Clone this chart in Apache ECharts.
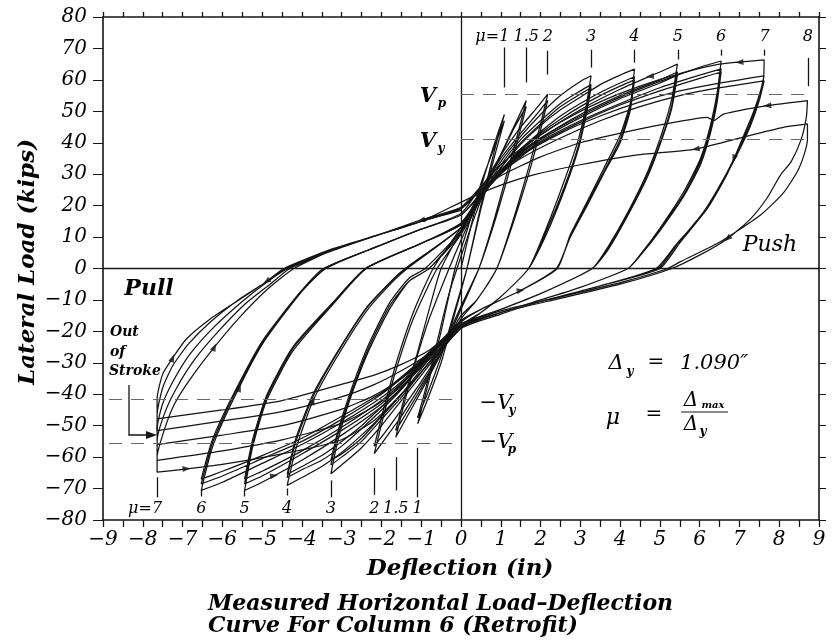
<!DOCTYPE html>
<html><head><meta charset="utf-8">
<script src="https://cdn.jsdelivr.net/npm/echarts/dist/echarts.min.js"></script>
<style>html,body{margin:0;padding:0;background:#fff}#c{width:833px;height:643px}</style>
</head><body><div id="c"></div>
<script>
// ---------- data (deflection in, load kips) ----------
const mu1 = [[0,0],[0.3,16],[0.6,30],[0.9,42],[1.09,49],[0.85,38],[0.5,20],[0.15,0],[-0.15,-14],[-0.5,-30],[-0.85,-42],[-1.09,-49.4],
 [-0.85,-38],[-0.5,-20],[-0.15,0],[0.15,12],[0.5,27],[0.85,39],[1.09,47],[0.85,36],[0.5,19],[0.15,0],[-0.15,-13],[-0.5,-28],[-0.85,-40],[-1.09,-47.5]];
const mu15 = [[-1.09,-47.5],[-0.8,-34],[-0.5,-18],[-0.3,-8],[-0.1,0],[0.3,15],[0.7,28],[1.1,39],[1.4,47],[1.64,53.4],
 [1.45,44],[1.15,30],[0.8,14],[0.45,0],[0,-13],[-0.5,-27],[-1.0,-39],[-1.35,-47],[-1.64,-53.7],
 [-1.45,-44],[-1.15,-30],[-0.8,-16],[-0.3,0],[0,9],[0.5,23],[1.0,36],[1.35,45],[1.64,51.5],
 [1.45,42],[1.15,28],[0.8,13],[0.45,0],[0,-12],[-0.5,-26],[-1.0,-38],[-1.35,-45.5],[-1.64,-51.5]];
const mu2 = [[-1.64,-51.5],[-1.4,-40],[-1.1,-27],[-0.8,-13],[-0.5,0],[0,12],[0.5,25],[1.0,36],[1.5,45],[1.9,51],[2.18,55.5],
 [2.0,46],[1.7,32],[1.3,15],[0.9,0],[0.4,-10],[0,-16],[-0.5,-27],[-1.0,-37],[-1.5,-47],[-1.9,-54],[-2.18,-58.9],
 [-1.95,-47],[-1.65,-33],[-1.2,-16],[-0.6,0],[0,11],[0.5,24],[1.0,35],[1.5,43],[1.9,49],[2.18,53.5],
 [2.0,44],[1.7,30],[1.3,14],[0.9,0],[0.4,-10],[0,-15],[-0.5,-26],[-1.0,-36],[-1.5,-45],[-1.9,-52],[-2.18,-56.5]];
const mu3 = [[-2.18,-56.5],[-1.95,-45],[-1.65,-31],[-1.2,-14],[-0.7,0],[0,13],[0.5,24],[1.0,34],[1.5,42],[2.0,49],[2.5,55],[3.0,59.5],[3.27,61.3],
 [3.15,52],[2.95,41],[2.6,28],[2.15,13],[1.7,0],[1.0,-9],[0.5,-14],[0,-19],[-0.5,-26],[-1.0,-34],[-1.5,-42],[-2.0,-50],[-2.5,-57],[-3.0,-62.5],[-3.27,-65.3],
 [-3.1,-55],[-2.8,-42],[-2.35,-27],[-1.8,-13],[-1.3,-4],[-0.8,0],[0,12],[0.5,23],[1.0,33],[1.5,41],[2.0,47],[2.5,52.5],[3.0,56.5],[3.27,58.5],
 [3.15,50],[2.95,39],[2.6,26],[2.15,12],[1.7,0],[1.0,-9],[0.5,-14],[0,-18],[-0.5,-25],[-1.0,-33],[-1.5,-41],[-2.0,-48],[-2.5,-55],[-3.0,-60],[-3.27,-62.5],
 [-3.1,-53],[-2.8,-41],[-2.35,-26],[-1.8,-12],[-1.3,-4],[-0.8,0],[0,11],[0.5,22],[1.0,32],[1.5,40],[2.0,46],[2.5,51.5],[3.0,55.5],[3.27,57.5],
 [3.15,49],[2.95,38],[2.6,25],[2.15,11],[1.7,0],[1.0,-9],[0.5,-14],[0,-18],[-0.5,-25],[-1.0,-33],[-1.5,-40],[-2.0,-47],[-2.5,-54],[-3.0,-59],[-3.27,-61]];
const mu4 = [[-3.27,-61],[-3.1,-52],[-2.8,-40],[-2.35,-25],[-1.8,-11],[-1.3,-3],[-0.9,0],[0,12],[0.5,23],[1.0,32],[1.5,39.5],[2.0,45.5],[2.5,50.5],[3.0,54.5],[3.5,58.5],[4.0,61.5],[4.36,63.4],
 [4.26,52.8],[4.0,42.4],[3.58,31.6],[3.17,21.2],[2.75,10.8],[2.42,0],[1.5,-7],[0.5,-13],[0,-17],[-0.5,-24],[-1.0,-32],[-1.5,-40],[-2.0,-47],[-2.5,-53],[-3.0,-58.5],[-3.5,-63],[-4.0,-66.5],[-4.37,-69],
 [-4.14,-56.9],[-3.72,-42.1],[-3.13,-28.4],[-2.38,-13.6],[-1.71,-4.1],[-1.35,0],[0,13],[0.5,23],[1.0,31],[1.5,38],[2.0,43.5],[2.5,48.5],[3.0,52.5],[3.5,56],[4.0,59],[4.36,61],
 [4.25,51],[4.0,41],[3.58,30.5],[3.17,20.5],[2.75,10.3],[2.4,0],[1.5,-7],[0.5,-13],[0,-17],[-0.5,-23.5],[-1.0,-31],[-1.5,-38.5],[-2.0,-45],[-2.5,-51],[-3.0,-56.5],[-3.5,-61],[-4.0,-64],[-4.37,-66.5],
 [-4.15,-55],[-3.73,-41],[-3.14,-27.5],[-2.4,-13],[-1.75,-4],[-1.4,0],[0,13],[0.5,22.5],[1.0,30.5],[1.5,37.5],[2.0,43],[2.5,47.5],[3.0,51.5],[3.5,55],[4.0,58],[4.36,60],
 [4.25,50],[4.0,40],[3.58,30],[3.17,20],[2.75,10],[2.4,0],[1.5,-7],[0.5,-13],[0,-16.5],[-0.5,-23],[-1.0,-30.5],[-1.5,-38],[-2.0,-44],[-2.5,-50],[-3.0,-55],[-3.5,-59.5],[-4.0,-63],[-4.37,-65.5]];
const mu5 = [[-4.37,-65.5],[-4.15,-54],[-3.72,-40],[-3.13,-27],[-2.38,-12.5],[-1.71,-3.5],[-1.4,0],[0,13],[0.5,23],[1.0,31],[1.5,37.5],[2,42.5],[3,50.5],[4,57],[5,62.5],[5.44,65],
 [5.3,54],[5.05,43],[4.7,31],[4.2,18],[3.7,7],[3.3,0],[2,-8],[1,-13],[0,-18],[-0.5,-24],[-1,-31],[-1.5,-38],[-2,-44],[-3,-53],[-4,-61],[-5,-68],[-5.44,-70.6],
 [-5.24,-56.9],[-4.89,-42.1],[-4.23,-26.3],[-3.22,-11.4],[-2.38,0],[-1,8],[0,14.5],[0.5,23.5],[1.0,31],[1.5,37],[2,41.5],[3,49],[4,55],[5,60],[5.44,62.5],
 [5.3,52],[5.05,41.5],[4.7,30],[4.2,17.5],[3.7,6.5],[3.3,0],[2,-8],[1,-13],[0,-18],[-0.5,-23.5],[-1,-30.5],[-1.5,-37],[-2,-43],[-3,-51.5],[-4,-59],[-5,-66],[-5.44,-68.5],
 [-5.24,-55.5],[-4.89,-41],[-4.23,-25.5],[-3.22,-11],[-2.4,0],[-1,8],[0,14],[0.5,23],[1.0,30.5],[1.5,36.5],[2,41],[3,48],[4,54],[5,59],[5.44,61.5],
 [5.3,51],[5.05,41],[4.7,29.5],[4.2,17],[3.7,6],[3.3,0],[2,-8],[1,-13],[0,-17.5],[-0.5,-23],[-1,-30],[-1.5,-36.5],[-2,-42],[-3,-50.5],[-4,-58],[-5,-64.5],[-5.44,-67]];
const mu6 = [[-5.44,-67],[-5.24,-54.5],[-4.89,-40.5],[-4.23,-25],[-3.22,-10.8],[-2.4,0],[-1,8],[0,14],[0.5,23.5],[1,31],[1.5,37],[2,41.5],[3,48.5],[4,54.5],[5,59.5],[6,64],[6.54,66],
 [6.44,56],[6.27,45.5],[6.02,35],[5.6,24.4],[5.0,12.8],[4.5,4.3],[4.2,0],[3,-6],[2,-10],[1,-14],[0,-18.5],[-0.5,-24],[-1,-30],[-1.5,-36],[-2,-41],[-3,-49],[-4,-56],[-5,-62],[-6,-68],[-6.53,-70.6],
 [-6.25,-56.9],[-5.74,-42.1],[-4.99,-24],[-4.06,-8.2],[-3.4,0],[-2,7.5],[-1,12.5],[0,17],[0.5,24],[1,30.5],[1.5,36],[2,40.5],[3,47],[4,52.5],[5,57.5],[6,61.5],[6.54,63.5],
 [6.44,54],[6.27,44],[6.02,34],[5.6,23.5],[5.0,12.3],[4.5,4],[4.2,0],[3,-6],[2,-10],[1,-14],[0,-18],[-0.5,-23.5],[-1,-29.5],[-1.5,-35],[-2,-40],[-3,-48],[-4,-55],[-5,-60.5],[-6,-66],[-6.53,-68.5],
 [-6.25,-55.5],[-5.74,-41],[-4.99,-23.5],[-4.06,-8],[-3.45,0],[-2,7.5],[-1,12.5],[0,17],[0.5,23.5],[1,30],[1.5,35.5],[2,40],[3,46.5],[4,52],[5,56.5],[6,60.5],[6.54,62.5],
 [6.44,53],[6.27,43],[6.02,33],[5.6,23],[5.0,12],[4.5,4],[4.2,0],[3,-6],[2,-10],[1,-14],[0,-18],[-0.5,-23],[-1,-29],[-1.5,-34.5],[-2,-39.5],[-3,-47],[-4,-54],[-5,-59.5],[-6,-64.5],[-6.53,-67]];
const mu7 = [[-6.53,-67],[-6.25,-54.5],[-5.74,-40.5],[-4.99,-23],[-4.06,-7.8],[-3.45,0],[-2,7.5],[-1,12.5],[0,17.5],
 [0.5,26],[1.0,33],[1.5,38],[2.5,46.5],[3.5,53],[4.5,58],[5.5,62],[6.5,65],[7.62,66.4],
 [7.6,60],[7.36,50],[7.03,40],[6.69,30],[6.19,19],[5.52,8.5],[5.0,0],
 [3.5,-5.5],[2,-10.5],[1,-14.5],[0,-19],[-0.8,-30],[-1.5,-40],[-2.2,-48.5],[-3.05,-54.7],[-4.5,-59],[-6,-62.3],[-7.64,-64.8],
 [-7.64,-60],[-7.45,-51],[-7.2,-43],[-6.8,-35],[-6.2,-25],[-5.6,-16],[-4.9,-7],[-4.2,0],
 [-3.2,6],[-2,11],[-1,15.5],[0,19.5],
 [0.5,26],[1,31.5],[1.5,36],[2.5,43],[3.5,48.5],[4.5,53],[5.5,56.5],[6.5,59],[7.62,61.3],
 [7.5,55],[7.3,47],[7.0,38.5],[6.6,28.5],[6.1,18],[5.45,8],[4.95,0],
 [3.5,-5.5],[2,-10.5],[1,-14.5],[0,-19],[-0.8,-29],[-1.5,-37.5],[-2.2,-44],[-3.05,-49.5],[-4.5,-54.5],[-6,-58],[-7.64,-61],
 [-7.64,-55],[-7.45,-46],[-7.15,-38],[-6.7,-29],[-6.1,-20],[-5.4,-11],[-4.8,-5],[-4.3,0],
 [-3.2,5.8],[-2,11],[-1,15],[0,19],
 [0.5,25],[1,30.5],[1.5,35],[2.5,41.5],[3.5,47],[4.5,51.5],[5.5,55],[6.5,57.5],[7.62,59.7],
 [7.5,53.5],[7.28,45.5],[6.97,37],[6.57,27.5],[6.05,17],[5.4,7.5],[4.9,0],
 [3.5,-5.5],[2,-10.5],[1,-14.5],[0,-19],[-0.8,-28],[-1.5,-35],[-2.2,-40.5],[-3.05,-45],[-4.5,-50],[-6,-53],[-7.64,-56],
 [-7.64,-51],[-7.5,-43],[-7.2,-35],[-6.8,-27],[-6.2,-18.5],[-5.5,-10.5],[-4.9,-4.5],[-4.35,0],
 [-3.2,5.8],[-2,11],[-1,15],[0,19]];
const mu8 = [[0,19],[0.5,25],[1,29.5],[2,35.5],[3,40],[4.5,44.4],[5.35,46.5],[6.19,48.1],[6.35,47],[6.6,49.1],[7.7,51.8],[8.71,53.4],
 [8.68,48],[8.55,41],[8.3,34],[8.03,29.7],[7.7,22.5],[7.28,15.8],[6.7,9.5],[6.02,4.4],[5.3,0],
 [4,-5],[2.5,-9.5],[1,-14],[0,-18.5],[-0.8,-27],[-1.5,-32.5],[-2.2,-37],[-3.05,-41],[-4.5,-45.5],[-6,-48.5],[-7.64,-51.6],
 [-7.64,-46.5],[-7.5,-38],[-7.25,-31],[-6.85,-24],[-6.3,-17],[-5.6,-10],[-4.9,-4.3],[-4.4,0],
 [-3.2,6],[-2,11],[-1,15],[0.15,22],
 [1,26.5],[1.8,29.7],[3,33],[4.35,36],[5.9,38],[7,41.5],[8.1,44.9],[8.71,46],
 [8.71,41],[8.62,36],[8.45,30.7],[8.1,24],[7.53,17],[6.52,8.5],[5.52,2.2],[5.2,0],
 [4,-4.5],[2.5,-9],[1,-13.5],[0,-18],[-0.8,-26],[-1.5,-30.5],[-2.2,-34],[-3.05,-37],[-4.5,-42],[-6,-45],[-7.64,-47.8],
 [-7.64,-41.5],[-7.5,-33.6],[-7.25,-28.5],[-6.91,-22.5],[-6.32,-16.2],[-5.57,-9.9],[-4.89,-4.1],[-4.45,0],
 [-3.22,6.3],[-2,11],[-1,15],[0,18.5]];
const levelNames = ['μ=1','μ=1.5','μ=2','μ=3','μ=4','μ=5','μ=6','μ=7','μ=8'];
const levelData = [mu1, mu15, mu2, mu3, mu4, mu5, mu6, mu7, mu8];

// direction arrowheads on the loops: position and heading (deg, 0 = up, 90 = left)
const arrowX = [7.0, 4.75, 7.7, 5.9, 6.86, 6.7, -1.0, -4.89, -7.25, -6.2, -5.57, -6.9, -4.7, 1.5, -3.72];
const arrowY = [65.6, 61.1, 51.8, 38, 35, 9.5, 15.3, -4.1, -28.5, -25, -38, -63.7, -65.9, -7, -42.1];
const arrowDir = [95, 95, 95, 100, 160, 130, 105, 125, -20, -25, -20, -85, -80, -80, -20];

// reference load levels (kips)
const refNames = ['Vp','Vy','-Vy','-Vp'];
const refLoads = [55.5, 41, -41.5, -55.6];
const refFrom  = [0, 0, -8.85, -8.85];
const refTo    = [8.85, 8.85, 0, 0];

// ductility markers
const muTopX = [1.09,1.64,2.18,3.27,4.36,5.45,6.54,7.63,8.72];
const muTopLabels = ['μ=1','1.5','2','3','4','5','6','7','8'];
const muTopLow  = [57.6,59.2,61.7,63.9,65.5,66.5,67.7,67.7,58];
const muTopHigh = [70.3,70.3,69.3,69.6,69.6,69.6,69.6,69.6,67];
const muBotX = [-1.09,-1.64,-2.18,-3.27,-4.37,-5.44,-6.53,-7.64];
const muBotLabels = ['1','1.5','2','3','4','5','6','μ=7'];
const muBotHigh = [-57,-60,-63.5,-67.4,-70,-70.5,-70.5,-66.4];
const muBotLow  = [-72.8,-70.6,-72,-72.8,-72.2,-72.5,-72.5,-72.8];

const xTickLabels = ['-9','-8','-7','-6','-5','-4','-3','-2','-1','0','1','2','3','4','5','6','7','8','9'];
const yTickLabels = ['-80','-70','-60','-50','-40','-30','-20','-10','0','10','20','30','40','50','60','70','80'];

// ---------- chart ----------
const FF = '"DejaVu Serif", serif';
const ink = '#141414';
const chart = echarts.init(document.getElementById('c'), null, {renderer:'canvas'});
const fmt = s => s.replace('-', '\u2212');

const curveSeries = levelData.map((d, i) => ({
  name: levelNames[i], type: 'line', data: d, showSymbol: false, smooth: 0.2,
  lineStyle: {color: ink, width: 1.25}, silent: true, z: 3
}));

const markSegs = [];
muTopX.forEach((x, i) => markSegs.push([{coord: [x, muTopLow[i]]}, {coord: [x, muTopHigh[i]]}]));
muBotX.forEach((x, i) => markSegs.push([{coord: [x, muBotHigh[i]]}, {coord: [x, muBotLow[i]]}]));

const refSegs = refLoads.map((y, i) => [{coord: [refFrom[i], y]}, {coord: [refTo[i], y]}]);

const arrowData = arrowX.map((x, i) => ({value: [x, arrowY[i]], symbolRotate: arrowDir[i]}));

const axLine = {show: true, onZero: false, lineStyle: {color: ink, width: 1.6}};
chart.setOption({
  animation: false,
  backgroundColor: '#fff',
  grid: {left: 103, right: 14, top: 17, bottom: 123, show: false},
  xAxis: [
    {type: 'value', min: -9, max: 9, interval: 1, position: 'bottom', axisLine: axLine,
     axisTick: {show: true, length: 7, lineStyle: {color: ink, width: 1.3}},
     minorTick: {show: true, splitNumber: 2, length: 7, lineStyle: {color: ink, width: 1.3}},
     splitLine: {show: false},
     axisLabel: {margin: 10, color: '#000', fontFamily: FF, fontStyle: 'italic', fontSize: 20,
       formatter: v => fmt(xTickLabels[Math.round(v) + 9])}},
    {type: 'value', min: -9, max: 9, interval: 0.5, position: 'top', axisLine: axLine,
     axisTick: {show: true, length: 5, lineStyle: {color: ink, width: 1.3}},
     splitLine: {show: false}, axisLabel: {show: false}}
  ],
  yAxis: [
    {type: 'value', min: -80, max: 80, interval: 10, position: 'left', axisLine: axLine,
     axisTick: {show: true, length: 10, lineStyle: {color: ink, width: 1}},
     splitLine: {show: false},
     axisLabel: {margin: 16, color: '#000', fontFamily: FF, fontStyle: 'italic', fontSize: 20,
       formatter: v => fmt(yTickLabels[Math.round(v / 10) + 8])}},
    {type: 'value', min: -80, max: 80, interval: 10, position: 'right', axisLine: axLine,
     axisTick: {show: true, length: 7, lineStyle: {color: ink, width: 1}},
     splitLine: {show: false}, axisLabel: {show: false}}
  ],
  series: [
    {type: 'line', data: [], silent: true, z: 2,
     markLine: {silent: true, symbol: 'none', label: {show: false}, animation: false,
       lineStyle: {color: ink, width: 1.3, type: 'solid'},
       data: [{xAxis: 0}, {yAxis: 0}]}},
    {type: 'line', data: [], silent: true, z: 2,
     markLine: {silent: true, symbol: 'none', label: {show: false}, animation: false,
       lineStyle: {color: '#666', width: 1.1, type: [13, 9]}, data: refSegs}},
    {type: 'line', data: [], silent: true, z: 4,
     markLine: {silent: true, symbol: 'none', label: {show: false}, animation: false,
       lineStyle: {color: ink, width: 1.3, type: 'solid'}, data: markSegs}},
    ...curveSeries,
    {type: 'scatter', data: arrowData, symbol: 'triangle', symbolSize: [6, 8], silent: true, z: 5,
     itemStyle: {color: ink}}
  ]
});

// ---------- text annotations ----------
const P = (x, y) => chart.convertToPixel({gridIndex: 0}, [x, y]);
const T = (x, y, text, size, o) => Object.assign({
  type: 'text', x: x, y: y, silent: true, z: 10,
  style: Object.assign({text: text, fill: '#000', fontFamily: FF, fontStyle: 'italic', fontSize: size,
    fontWeight: 'normal', align: 'center', verticalAlign: 'middle'}, (o && o.style) || {})
}, o && o.rot ? {rotation: o.rot} : {});

const g = [];
muTopX.forEach((x, i) => {
  const p = P(x, 73.6);
  if (i === 0) g.push(T(p[0] + 5, p[1], muTopLabels[i], 16, {style: {align: 'right'}}));
  else g.push(T(p[0], p[1], muTopLabels[i], 16));
});
muBotX.forEach((x, i) => {
  const p = P(x, -76.3);
  if (i === muBotX.length - 1) g.push(T(p[0] + 5, p[1], muBotLabels[i], 16, {style: {align: 'right'}}));
  else g.push(T(p[0], p[1], muBotLabels[i], 16));
});
// reference labels
g.push(T(428, 97, 'V', 21, {style: {fontWeight: 'bold'}}));
g.push(T(442, 104, 'p', 12, {style: {fontWeight: 'bold'}}));
g.push(T(428, 142, 'V', 21, {style: {fontWeight: 'bold'}}));
g.push(T(441, 149, 'y', 12, {style: {fontWeight: 'bold'}}));
g.push(T(496, 404, '\u2212V', 21));
g.push(T(512, 411, 'y', 12, {style: {fontWeight: 'bold'}}));
g.push(T(496, 443, '\u2212V', 21));
g.push(T(512, 450, 'p', 12, {style: {fontWeight: 'bold'}}));
// Pull / Push
g.push(T(149, 289, 'Pull', 22, {style: {fontWeight: 'bold'}}));
g.push(T(770, 245, 'Push', 22));
// Out of stroke
g.push(T(110, 332, 'Out', 14, {style: {align: 'left', fontWeight: 'bold'}}));
g.push(T(110, 352, 'of', 14, {style: {align: 'left', fontWeight: 'bold'}}));
g.push(T(109, 371, 'Stroke', 14, {style: {align: 'left', fontWeight: 'bold'}}));
g.push({type: 'polyline', silent: true, z: 10, shape: {points: [[129, 385], [129, 435], [148, 435]]},
  style: {stroke: ink, lineWidth: 1.3, fill: null}});
g.push({type: 'polygon', silent: true, z: 10, shape: {points: [[146, 431], [157, 435], [146, 439]]},
  style: {fill: ink}});
// delta_y and mu definitions
g.push(T(616, 364, 'Δ', 21));
g.push(T(630, 372, 'y', 12, {style: {fontWeight: 'bold'}}));
g.push(T(656, 363, '=', 20));
g.push(T(714, 364, '1.090\u2033', 21));
g.push(T(613, 418, 'μ', 22));
g.push(T(654, 415, '=', 20));
g.push(T(691, 401, 'Δ', 20));
g.push(T(713, 405, 'max', 10, {style: {fontWeight: 'bold'}}));
g.push({type: 'line', silent: true, z: 10, shape: {x1: 681, y1: 412, x2: 728, y2: 412}, style: {stroke: ink, lineWidth: 1}});
g.push(T(691, 425, 'Δ', 20));
g.push(T(703, 432, 'y', 12, {style: {fontWeight: 'bold'}}));
// axis titles
g.push(T(28, 262, 'Lateral Load (kips)', 23, {rot: Math.PI / 2, style: {fontWeight: 'bold'}}));
g.push(T(460, 569, 'Deflection (in)', 23, {style: {fontWeight: 'bold'}}));
g.push(T(208, 604, 'Measured Horizontal Load\u2013Deflection', 22, {style: {align: 'left', fontWeight: 'bold'}}));
g.push(T(208, 626, 'Curve For Column 6 (Retrofit)', 22, {style: {align: 'left', fontWeight: 'bold'}}));

chart.setOption({graphic: g});
</script>
</body></html>
